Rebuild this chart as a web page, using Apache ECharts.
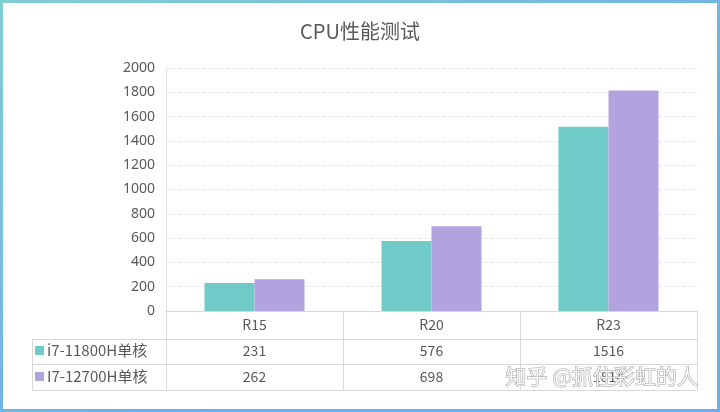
<!DOCTYPE html>
<html><head><meta charset="utf-8">
<script src="https://cdn.jsdelivr.net/npm/echarts@6/dist/echarts.min.js"></script>
<style>html,body{margin:0;padding:0;background:#fff}#c{width:720px;height:412px}</style>
</head><body><div id="c"></div>
<script>
const categories = ['R15', 'R20', 'R23'];
const seriesNames = ['i7-11800H单核', 'I7-12700H单核'];
const cpuA = [231, 576, 1516];
const cpuB = [262, 698, 1814];
const yTicks = [0, 200, 400, 600, 800, 1000, 1200, 1400, 1600, 1800, 2000];

const colors = ['#6fcac8', '#b1a3dd'];
const txt = '#595959';
const lineC = '#d9d9d9';
const G = {left: 166, right: 697, top: 68, bottom: 311};
const rowH = 26;
const tableBottom = G.bottom + rowH * 3 + 1;

const chart = echarts.init(document.getElementById('c'));
const graphic = [
  {type: 'rect', shape: {x: 1.5, y: 1.5, width: 717, height: 409}, silent: true,
   style: {fill: 'none', lineWidth: 3,
     stroke: new echarts.graphic.LinearGradient(0, 0, 0.3, 1, [{offset: 0, color: '#7fcfcf'}, {offset: 1, color: '#6aaeea'}])}},
];
const rowsY = [G.bottom + rowH + 2, G.bottom + rowH * 2 + 1, tableBottom];
rowsY.forEach(y => graphic.push({type: 'line', shape: {x1: 32, y1: y + 0.5, x2: G.right, y2: y + 0.5}, style: {stroke: lineC, lineWidth: 1}, silent: true}));
const catW = (G.right - G.left) / categories.length;
for (let i = 0; i <= categories.length; i++) {
  const x = Math.round(G.left + catW * i) + 0.5;
  graphic.push({type: 'line', shape: {x1: x, y1: G.bottom, x2: x, y2: tableBottom}, style: {stroke: lineC, lineWidth: 1}, silent: true});
}
graphic.push({type: 'line', shape: {x1: 32.5, y1: rowsY[0], x2: 32.5, y2: tableBottom}, style: {stroke: lineC, lineWidth: 1}, silent: true});
graphic.push({type: 'text', left: 505, top: 365, z: 100, silent: true,
  style: {text: '知乎 @抓住彩虹的人', fontSize: 21, fontFamily: 'Noto Sans CJK SC', fill: 'rgba(255,255,255,0.85)', stroke: 'rgba(150,150,150,0.9)', lineWidth: 1}});

chart.setOption({
  animation: false,
  title: {text: 'CPU性能测试', left: 'center', top: 16,
    textStyle: {fontSize: 20, fontWeight: 'normal', color: txt, fontFamily: 'Noto Sans CJK SC'}},
  grid: {left: G.left, right: 720 - G.right, top: G.top, bottom: 412 - G.bottom, containLabel: false},
  legend: {orient: 'vertical', left: 35, top: 343, padding: 0, itemGap: 11, itemWidth: 9, itemHeight: 9,
    icon: 'rect', data: seriesNames,
    textStyle: {fontSize: 15, color: txt, padding: [0, 0, 0, -2], fontFamily: 'Noto Sans CJK SC'}},
  xAxis: {type: 'category', data: categories,
    axisLine: {show: true, lineStyle: {color: lineC}}, axisTick: {show: false},
    axisLabel: {margin: 1, interval: 0, color: txt, fontSize: 14, fontFamily: 'Noto Sans CJK SC', lineHeight: rowH,
      formatter: (v, i) => [v, cpuA[i], cpuB[i]].join('\n')}},
  yAxis: {type: 'value', min: yTicks[0], max: yTicks[yTicks.length - 1], interval: yTicks[1] - yTicks[0],
    axisLine: {show: true, lineStyle: {color: '#e3e3e3'}}, axisTick: {show: false},
    axisLabel: {color: txt, fontSize: 14, margin: 11, fontFamily: 'Noto Sans', formatter: v => String(v)},
    splitLine: {lineStyle: {color: '#e8e8e8', type: 'dashed'}}},
  series: [
    {name: seriesNames[0], type: 'bar', data: cpuA, barWidth: 50, barGap: '0%', itemStyle: {color: colors[0]}},
    {name: seriesNames[1], type: 'bar', data: cpuB, barWidth: 50, barGap: '0%', itemStyle: {color: colors[1]}}
  ],
  graphic: graphic
});
</script></body></html>
